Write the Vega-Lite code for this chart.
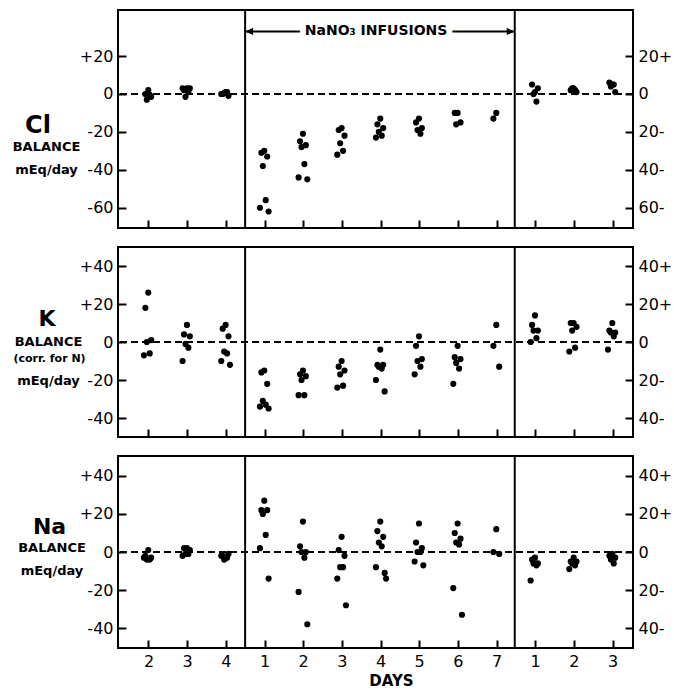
{
  "$schema": "https://vega.github.io/schema/vega-lite/v6.json",
  "padding": {"left": 11, "top": 8, "right": 0, "bottom": 0},
  "bounds": "flush",
  "spacing": 19,
  "config": {
    "font": "DejaVu Sans",
    "view": {"stroke": "black", "strokeWidth": 2},
    "axis": {"grid": false, "domain": false, "labelColor": "black", "tickColor": "black", "titleColor": "black", "labelFont": "DejaVu Sans", "titleFont": "DejaVu Sans", "labelFontSize": 16, "tickWidth": 2, "labelOverlap": false, "labelAngle": 0}
  },
  "datasets": {
    "infusion": [{"start": 3.5, "end": 10.5, "label": "NaNO₃ INFUSIONS"}],
    "balance": [
      {"element":"Cl","t":1,"subject":4,"value":2},{"element":"Cl","t":1,"subject":2,"value":0},{"element":"Cl","t":1,"subject":6,"value":-1.5},{"element":"Cl","t":1,"subject":3,"value":-3},{"element":"Cl","t":1,"subject":5,"value":-0.5},
      {"element":"Cl","t":2,"subject":4,"value":3},{"element":"Cl","t":2,"subject":2,"value":2},{"element":"Cl","t":2,"subject":6,"value":3},{"element":"Cl","t":2,"subject":3,"value":-1.5},{"element":"Cl","t":2,"subject":5,"value":1},{"element":"Cl","t":2,"subject":1,"value":3},
      {"element":"Cl","t":3,"subject":4,"value":1},{"element":"Cl","t":3,"subject":2,"value":0},{"element":"Cl","t":3,"subject":6,"value":-1},{"element":"Cl","t":3,"subject":3,"value":0.5},{"element":"Cl","t":3,"subject":5,"value":1},{"element":"Cl","t":3,"subject":1,"value":0},
      {"element":"Cl","t":4,"subject":4,"value":-30},{"element":"Cl","t":4,"subject":2,"value":-31},{"element":"Cl","t":4,"subject":6,"value":-33},{"element":"Cl","t":4,"subject":3,"value":-38},{"element":"Cl","t":4,"subject":5,"value":-56},{"element":"Cl","t":4,"subject":1,"value":-60},{"element":"Cl","t":4,"subject":7,"value":-62},
      {"element":"Cl","t":5,"subject":4,"value":-21},{"element":"Cl","t":5,"subject":2,"value":-25},{"element":"Cl","t":5,"subject":6,"value":-27},{"element":"Cl","t":5,"subject":3,"value":-28},{"element":"Cl","t":5,"subject":5,"value":-37},{"element":"Cl","t":5,"subject":1,"value":-44},{"element":"Cl","t":5,"subject":7,"value":-45},
      {"element":"Cl","t":6,"subject":4,"value":-18},{"element":"Cl","t":6,"subject":2,"value":-19},{"element":"Cl","t":6,"subject":6,"value":-22},{"element":"Cl","t":6,"subject":3,"value":-26},{"element":"Cl","t":6,"subject":5,"value":-30},{"element":"Cl","t":6,"subject":1,"value":-32},
      {"element":"Cl","t":7,"subject":4,"value":-13},{"element":"Cl","t":7,"subject":2,"value":-16},{"element":"Cl","t":7,"subject":6,"value":-18},{"element":"Cl","t":7,"subject":3,"value":-20},{"element":"Cl","t":7,"subject":5,"value":-22},{"element":"Cl","t":7,"subject":1,"value":-23},
      {"element":"Cl","t":8,"subject":4,"value":-13},{"element":"Cl","t":8,"subject":2,"value":-15},{"element":"Cl","t":8,"subject":6,"value":-18},{"element":"Cl","t":8,"subject":3,"value":-19},{"element":"Cl","t":8,"subject":5,"value":-21},
      {"element":"Cl","t":9,"subject":4,"value":-10},{"element":"Cl","t":9,"subject":2,"value":-10},{"element":"Cl","t":9,"subject":6,"value":-15},{"element":"Cl","t":9,"subject":3,"value":-16},
      {"element":"Cl","t":10,"subject":4,"value":-10},{"element":"Cl","t":10,"subject":2,"value":-13},
      {"element":"Cl","t":11,"subject":4,"value":1},{"element":"Cl","t":11,"subject":2,"value":5},{"element":"Cl","t":11,"subject":6,"value":3},{"element":"Cl","t":11,"subject":3,"value":0},{"element":"Cl","t":11,"subject":5,"value":-4},
      {"element":"Cl","t":12,"subject":4,"value":3},{"element":"Cl","t":12,"subject":2,"value":2},{"element":"Cl","t":12,"subject":6,"value":1},{"element":"Cl","t":12,"subject":3,"value":3},{"element":"Cl","t":12,"subject":5,"value":2},
      {"element":"Cl","t":13,"subject":4,"value":5},{"element":"Cl","t":13,"subject":2,"value":6},{"element":"Cl","t":13,"subject":6,"value":1},{"element":"Cl","t":13,"subject":3,"value":4},{"element":"Cl","t":13,"subject":5,"value":5},

      {"element":"K","t":1,"subject":4,"value":26},{"element":"K","t":1,"subject":2,"value":18},{"element":"K","t":1,"subject":6,"value":1},{"element":"K","t":1,"subject":3,"value":0},{"element":"K","t":1,"subject":5,"value":-6},{"element":"K","t":1,"subject":1,"value":-7},
      {"element":"K","t":2,"subject":4,"value":9},{"element":"K","t":2,"subject":2,"value":4},{"element":"K","t":2,"subject":6,"value":3},{"element":"K","t":2,"subject":3,"value":-1},{"element":"K","t":2,"subject":5,"value":-3},{"element":"K","t":2,"subject":1,"value":-10},
      {"element":"K","t":3,"subject":4,"value":9},{"element":"K","t":3,"subject":2,"value":7},{"element":"K","t":3,"subject":6,"value":3},{"element":"K","t":3,"subject":3,"value":-5},{"element":"K","t":3,"subject":5,"value":-6},{"element":"K","t":3,"subject":1,"value":-10},{"element":"K","t":3,"subject":7,"value":-12},
      {"element":"K","t":4,"subject":4,"value":-15},{"element":"K","t":4,"subject":2,"value":-16},{"element":"K","t":4,"subject":6,"value":-22},{"element":"K","t":4,"subject":3,"value":-31},{"element":"K","t":4,"subject":5,"value":-33},{"element":"K","t":4,"subject":1,"value":-34},{"element":"K","t":4,"subject":7,"value":-35},
      {"element":"K","t":5,"subject":4,"value":-15},{"element":"K","t":5,"subject":2,"value":-17},{"element":"K","t":5,"subject":6,"value":-18},{"element":"K","t":5,"subject":3,"value":-20},{"element":"K","t":5,"subject":5,"value":-28},{"element":"K","t":5,"subject":1,"value":-28},
      {"element":"K","t":6,"subject":4,"value":-10},{"element":"K","t":6,"subject":2,"value":-13},{"element":"K","t":6,"subject":6,"value":-15},{"element":"K","t":6,"subject":3,"value":-17},{"element":"K","t":6,"subject":5,"value":-23},{"element":"K","t":6,"subject":1,"value":-24},
      {"element":"K","t":7,"subject":4,"value":-4},{"element":"K","t":7,"subject":2,"value":-12},{"element":"K","t":7,"subject":6,"value":-12},{"element":"K","t":7,"subject":3,"value":-13},{"element":"K","t":7,"subject":5,"value":-14},{"element":"K","t":7,"subject":1,"value":-20},{"element":"K","t":7,"subject":7,"value":-26},
      {"element":"K","t":8,"subject":4,"value":3},{"element":"K","t":8,"subject":2,"value":-2},{"element":"K","t":8,"subject":6,"value":-9},{"element":"K","t":8,"subject":3,"value":-10},{"element":"K","t":8,"subject":5,"value":-13},{"element":"K","t":8,"subject":1,"value":-17},
      {"element":"K","t":9,"subject":4,"value":-2},{"element":"K","t":9,"subject":2,"value":-8},{"element":"K","t":9,"subject":6,"value":-9},{"element":"K","t":9,"subject":3,"value":-11},{"element":"K","t":9,"subject":5,"value":-14},{"element":"K","t":9,"subject":1,"value":-22},
      {"element":"K","t":10,"subject":4,"value":9},{"element":"K","t":10,"subject":2,"value":-2},{"element":"K","t":10,"subject":6,"value":-13},
      {"element":"K","t":11,"subject":4,"value":14},{"element":"K","t":11,"subject":2,"value":9},{"element":"K","t":11,"subject":6,"value":6},{"element":"K","t":11,"subject":3,"value":6},{"element":"K","t":11,"subject":5,"value":2},{"element":"K","t":11,"subject":1,"value":0},
      {"element":"K","t":12,"subject":4,"value":10},{"element":"K","t":12,"subject":2,"value":10},{"element":"K","t":12,"subject":6,"value":8},{"element":"K","t":12,"subject":3,"value":6},{"element":"K","t":12,"subject":5,"value":-3},{"element":"K","t":12,"subject":1,"value":-5},
      {"element":"K","t":13,"subject":4,"value":10},{"element":"K","t":13,"subject":2,"value":6},{"element":"K","t":13,"subject":6,"value":5},{"element":"K","t":13,"subject":3,"value":5},{"element":"K","t":13,"subject":5,"value":3},{"element":"K","t":13,"subject":1,"value":-4},

      {"element":"Na","t":1,"subject":4,"value":1},{"element":"Na","t":1,"subject":2,"value":-2},{"element":"Na","t":1,"subject":6,"value":-3},{"element":"Na","t":1,"subject":3,"value":-4},{"element":"Na","t":1,"subject":5,"value":-4},{"element":"Na","t":1,"subject":1,"value":-3},
      {"element":"Na","t":2,"subject":4,"value":2},{"element":"Na","t":2,"subject":2,"value":2},{"element":"Na","t":2,"subject":6,"value":1},{"element":"Na","t":2,"subject":3,"value":-1},{"element":"Na","t":2,"subject":5,"value":-1},{"element":"Na","t":2,"subject":1,"value":-2},
      {"element":"Na","t":3,"subject":4,"value":-3},{"element":"Na","t":3,"subject":2,"value":-2},{"element":"Na","t":3,"subject":6,"value":-1},{"element":"Na","t":3,"subject":3,"value":-4},{"element":"Na","t":3,"subject":5,"value":-3},{"element":"Na","t":3,"subject":1,"value":-2},
      {"element":"Na","t":4,"subject":4,"value":27},{"element":"Na","t":4,"subject":2,"value":22},{"element":"Na","t":4,"subject":6,"value":22},{"element":"Na","t":4,"subject":3,"value":20},{"element":"Na","t":4,"subject":5,"value":9},{"element":"Na","t":4,"subject":1,"value":2},{"element":"Na","t":4,"subject":7,"value":-14},
      {"element":"Na","t":5,"subject":4,"value":16},{"element":"Na","t":5,"subject":2,"value":3},{"element":"Na","t":5,"subject":6,"value":0},{"element":"Na","t":5,"subject":3,"value":0},{"element":"Na","t":5,"subject":5,"value":-3},{"element":"Na","t":5,"subject":1,"value":-21},{"element":"Na","t":5,"subject":7,"value":-38},
      {"element":"Na","t":6,"subject":4,"value":8},{"element":"Na","t":6,"subject":2,"value":1},{"element":"Na","t":6,"subject":6,"value":-2},{"element":"Na","t":6,"subject":3,"value":-8},{"element":"Na","t":6,"subject":5,"value":-8},{"element":"Na","t":6,"subject":1,"value":-14},{"element":"Na","t":6,"subject":7,"value":-28},
      {"element":"Na","t":7,"subject":4,"value":16},{"element":"Na","t":7,"subject":2,"value":11},{"element":"Na","t":7,"subject":6,"value":8},{"element":"Na","t":7,"subject":3,"value":5},{"element":"Na","t":7,"subject":5,"value":3},{"element":"Na","t":7,"subject":1,"value":-8},{"element":"Na","t":7,"subject":7,"value":-11},{"element":"Na","t":7,"subject":8,"value":-14},
      {"element":"Na","t":8,"subject":4,"value":15},{"element":"Na","t":8,"subject":2,"value":5},{"element":"Na","t":8,"subject":6,"value":2},{"element":"Na","t":8,"subject":3,"value":0},{"element":"Na","t":8,"subject":5,"value":0},{"element":"Na","t":8,"subject":1,"value":-5},{"element":"Na","t":8,"subject":7,"value":-7},
      {"element":"Na","t":9,"subject":4,"value":15},{"element":"Na","t":9,"subject":2,"value":10},{"element":"Na","t":9,"subject":6,"value":7},{"element":"Na","t":9,"subject":3,"value":5},{"element":"Na","t":9,"subject":5,"value":4},{"element":"Na","t":9,"subject":1,"value":-19},{"element":"Na","t":9,"subject":7,"value":-33},
      {"element":"Na","t":10,"subject":4,"value":12},{"element":"Na","t":10,"subject":2,"value":0},{"element":"Na","t":10,"subject":6,"value":-1},
      {"element":"Na","t":11,"subject":4,"value":-3},{"element":"Na","t":11,"subject":2,"value":-4},{"element":"Na","t":11,"subject":6,"value":-6},{"element":"Na","t":11,"subject":3,"value":-6},{"element":"Na","t":11,"subject":5,"value":-7},{"element":"Na","t":11,"subject":1,"value":-15},
      {"element":"Na","t":12,"subject":4,"value":-3},{"element":"Na","t":12,"subject":2,"value":-5},{"element":"Na","t":12,"subject":6,"value":-5},{"element":"Na","t":12,"subject":3,"value":-6},{"element":"Na","t":12,"subject":5,"value":-7},{"element":"Na","t":12,"subject":1,"value":-9},
      {"element":"Na","t":13,"subject":4,"value":-1},{"element":"Na","t":13,"subject":2,"value":-2},{"element":"Na","t":13,"subject":6,"value":-3},{"element":"Na","t":13,"subject":3,"value":-4},{"element":"Na","t":13,"subject":5,"value":-6}
    ]
  },
  "vconcat": [
    {
      "width": 515, "height": 218,
      "resolve": {"scale": {"x": "independent", "y": "independent"}},
      "layer": [
        {
          "data": {"name": "balance"},
          "transform": [{"filter": "datum.element === 'Cl'"}],
          "mark": {"type": "circle", "size": 38, "color": "black", "opacity": 1},
          "encoding": {
            "x": {"field": "t", "type": "ordinal", "scale": {"type": "band", "domain": [1,2,3,4,5,6,7,8,9,10,11,12,13], "paddingInner": 0.7, "paddingOuter": 0.509, "align": 0.64},
                  "axis": {"orient": "bottom", "labels": false, "offset": -8, "tickSize": 8, "title": null}},
            "xOffset": {"field": "subject", "type": "nominal"},
            "y": {"field": "value", "type": "quantitative", "scale": {"domain": [-70.7, 44.3], "nice": false, "zero": false},
                  "axis": {"orient": "left", "values": [20, 0, -20, -40, -60], "labelExpr": "datum.value > 0 ? '+' + datum.value : (datum.value < 0 ? '-' + abs(datum.value) : '0')", "offset": -8, "tickSize": 8, "labelPadding": 5,
                           "title": "Cl", "titleAngle": 0, "titleAlign": "center", "titleBaseline": "alphabetic", "titleX": -88.5, "titleY": 122, "titleFontSize": 24, "titleFontWeight": "bold"}}
          }
        },
        {
          "data": {"name": "infusion"},
          "transform": [{"fold": ["start", "end"], "as": ["edge", "t"]}],
          "mark": {"type": "rule", "color": "black", "strokeWidth": 2},
          "encoding": {
            "x": {"field": "t", "type": "quantitative", "scale": {"domain": [0.2, 13.57], "nice": false, "zero": false}, "axis": null}
          }
        },
        {
          "data": {"name": "infusion"},
          "mark": {"type": "rule", "color": "black", "strokeWidth": 2, "strokeDash": [7, 4]},
          "encoding": {
            "y": {"datum": 0, "type": "quantitative", "scale": {"domain": [-70.7, 44.3], "nice": false, "zero": false},
                  "axis": {"orient": "right", "values": [20, 0, -20, -40, -60], "labelExpr": "abs(datum.value) + (datum.value > 0 ? '+' : (datum.value < 0 ? '-' : ''))", "offset": -8, "tickSize": 8, "labelPadding": 5,
                           "title": ["BALANCE", "mEq/day"], "titleAngle": 0, "titleAlign": "center", "titleBaseline": "alphabetic", "titleX": -579, "titleY": 140.5, "titleLineHeight": 23, "titleFontSize": 13, "titleFontWeight": "bold"}}
          }
        },
        {
          "data": {"name": "infusion"},
          "mark": {"type": "rule", "color": "black", "strokeWidth": 2},
          "encoding": {
            "x": {"field": "start", "type": "quantitative", "scale": {"domain": [0.2, 13.57], "nice": false, "zero": false}, "axis": null},
            "x2": {"field": "end"},
            "y": {"datum": 33, "type": "quantitative", "scale": {"domain": [-70.7, 44.3], "nice": false, "zero": false}, "axis": null}
          }
        },
        {
          "data": {"name": "infusion"},
          "mark": {"type": "point", "shape": "M0,0L2,-0.9L2,0.9Z", "filled": true, "color": "black", "opacity": 1, "size": 64},
          "encoding": {
            "x": {"field": "start", "type": "quantitative", "scale": {"domain": [0.2, 13.57], "nice": false, "zero": false}, "axis": null},
            "y": {"datum": 33, "type": "quantitative", "scale": {"domain": [-70.7, 44.3], "nice": false, "zero": false}, "axis": null}
          }
        },
        {
          "data": {"name": "infusion"},
          "mark": {"type": "point", "shape": "M0,0L-2,-0.9L-2,0.9Z", "filled": true, "color": "black", "opacity": 1, "size": 64},
          "encoding": {
            "x": {"field": "end", "type": "quantitative", "scale": {"domain": [0.2, 13.57], "nice": false, "zero": false}, "axis": null},
            "y": {"datum": 33, "type": "quantitative", "scale": {"domain": [-70.7, 44.3], "nice": false, "zero": false}, "axis": null}
          }
        },
        {
          "data": {"name": "infusion"},
          "mark": {"type": "text", "font": "DejaVu Sans", "fontSize": 14, "fontWeight": "bold", "color": "white", "stroke": "white", "strokeWidth": 12, "align": "center", "baseline": "middle"},
          "encoding": {
            "text": {"field": "label"},
            "x": {"datum": 6.9, "type": "quantitative", "scale": {"domain": [0.2, 13.57], "nice": false, "zero": false}, "axis": null},
            "y": {"datum": 33, "type": "quantitative", "scale": {"domain": [-70.7, 44.3], "nice": false, "zero": false}, "axis": null}
          }
        },
        {
          "data": {"name": "infusion"},
          "mark": {"type": "text", "font": "DejaVu Sans", "fontSize": 14, "fontWeight": "bold", "color": "black", "align": "center", "baseline": "middle"},
          "encoding": {
            "text": {"field": "label"},
            "x": {"datum": 6.9, "type": "quantitative", "scale": {"domain": [0.2, 13.57], "nice": false, "zero": false}, "axis": null},
            "y": {"datum": 33, "type": "quantitative", "scale": {"domain": [-70.7, 44.3], "nice": false, "zero": false}, "axis": null}
          }
        }
      ]
    },
    {
      "width": 515, "height": 190,
      "resolve": {"scale": {"x": "independent", "y": "independent"}},
      "layer": [
        {
          "data": {"name": "balance"},
          "transform": [{"filter": "datum.element === 'K'"}],
          "mark": {"type": "circle", "size": 38, "color": "black", "opacity": 1},
          "encoding": {
            "x": {"field": "t", "type": "ordinal", "scale": {"type": "band", "domain": [1,2,3,4,5,6,7,8,9,10,11,12,13], "paddingInner": 0.7, "paddingOuter": 0.509, "align": 0.64},
                  "axis": {"orient": "bottom", "labels": false, "offset": -8, "tickSize": 8,
                           "title": "(corr. for N)", "titleFontSize": 11, "titleFontWeight": "bold", "titleAngle": 0, "titleAlign": "center", "titleBaseline": "alphabetic", "titleX": -69, "titleY": -68}},
            "xOffset": {"field": "subject", "type": "nominal"},
            "y": {"field": "value", "type": "quantitative", "scale": {"domain": [-50, 50], "nice": false, "zero": false},
                  "axis": {"orient": "left", "values": [40, 20, 0, -20, -40], "labelExpr": "datum.value > 0 ? '+' + datum.value : (datum.value < 0 ? '-' + abs(datum.value) : '0')", "offset": -8, "tickSize": 8, "labelPadding": 5,
                           "title": "K", "titleAngle": 0, "titleAlign": "center", "titleBaseline": "alphabetic", "titleX": -79.5, "titleY": 78, "titleFontSize": 22, "titleFontWeight": "bold"}}
          }
        },
        {
          "data": {"name": "infusion"},
          "transform": [{"fold": ["start", "end"], "as": ["edge", "t"]}],
          "mark": {"type": "rule", "color": "black", "strokeWidth": 2},
          "encoding": {
            "x": {"field": "t", "type": "quantitative", "scale": {"domain": [0.2, 13.57], "nice": false, "zero": false}, "axis": null}
          }
        },
        {
          "data": {"name": "infusion"},
          "mark": {"type": "rule", "color": "black", "strokeWidth": 2, "strokeDash": [7, 4]},
          "encoding": {
            "y": {"datum": 0, "type": "quantitative", "scale": {"domain": [-50, 50], "nice": false, "zero": false},
                  "axis": {"orient": "right", "values": [40, 20, 0, -20, -40], "labelExpr": "abs(datum.value) + (datum.value > 0 ? '+' : (datum.value < 0 ? '-' : ''))", "offset": -8, "tickSize": 8, "labelPadding": 5,
                           "title": ["BALANCE", "mEq/day"], "titleAngle": 0, "titleAlign": "center", "titleBaseline": "alphabetic", "titleX": -577, "titleY": 98, "titleLineHeight": 39, "titleFontSize": 13, "titleFontWeight": "bold"}}
          }
        }
      ]
    },
    {
      "width": 515, "height": 192,
      "resolve": {"scale": {"x": "independent", "y": "independent"}},
      "layer": [
        {
          "data": {"name": "balance"},
          "transform": [{"filter": "datum.element === 'Na'"}],
          "mark": {"type": "circle", "size": 38, "color": "black", "opacity": 1},
          "encoding": {
            "x": {"field": "t", "type": "ordinal", "scale": {"type": "band", "domain": [1,2,3,4,5,6,7,8,9,10,11,12,13], "paddingInner": 0.7, "paddingOuter": 0.509, "align": 0.64},
                  "axis": {"orient": "bottom", "labelExpr": "['','2','3','4','1','2','3','4','5','6','7','1','2','3'][datum.value]", "offset": -8, "tickSize": 8, "labelPadding": 5,
                           "title": "DAYS", "titleFontSize": 15, "titleFontWeight": "bold", "titleAlign": "center", "titleBaseline": "alphabetic", "titleX": 273, "titleY": 45}},
            "xOffset": {"field": "subject", "type": "nominal"},
            "y": {"field": "value", "type": "quantitative", "scale": {"domain": [-50.5, 50.5], "nice": false, "zero": false},
                  "axis": {"orient": "left", "values": [40, 20, 0, -20, -40], "labelExpr": "datum.value > 0 ? '+' + datum.value : (datum.value < 0 ? '-' + abs(datum.value) : '0')", "offset": -8, "tickSize": 8, "labelPadding": 5,
                           "title": "Na", "titleAngle": 0, "titleAlign": "center", "titleBaseline": "alphabetic", "titleX": -77, "titleY": 77, "titleFontSize": 22, "titleFontWeight": "bold"}}
          }
        },
        {
          "data": {"name": "infusion"},
          "transform": [{"fold": ["start", "end"], "as": ["edge", "t"]}],
          "mark": {"type": "rule", "color": "black", "strokeWidth": 2},
          "encoding": {
            "x": {"field": "t", "type": "quantitative", "scale": {"domain": [0.2, 13.57], "nice": false, "zero": false}, "axis": null}
          }
        },
        {
          "data": {"name": "infusion"},
          "mark": {"type": "rule", "color": "black", "strokeWidth": 2, "strokeDash": [7, 4]},
          "encoding": {
            "y": {"datum": 0, "type": "quantitative", "scale": {"domain": [-50.5, 50.5], "nice": false, "zero": false},
                  "axis": {"orient": "right", "values": [40, 20, 0, -20, -40], "labelExpr": "abs(datum.value) + (datum.value > 0 ? '+' : (datum.value < 0 ? '-' : ''))", "offset": -8, "tickSize": 8, "labelPadding": 5,
                           "title": ["BALANCE", "mEq/day"], "titleAngle": 0, "titleAlign": "center", "titleBaseline": "alphabetic", "titleX": -573.5, "titleY": 95.5, "titleLineHeight": 23, "titleFontSize": 13, "titleFontWeight": "bold"}}
          }
        }
      ]
    }
  ]
}
